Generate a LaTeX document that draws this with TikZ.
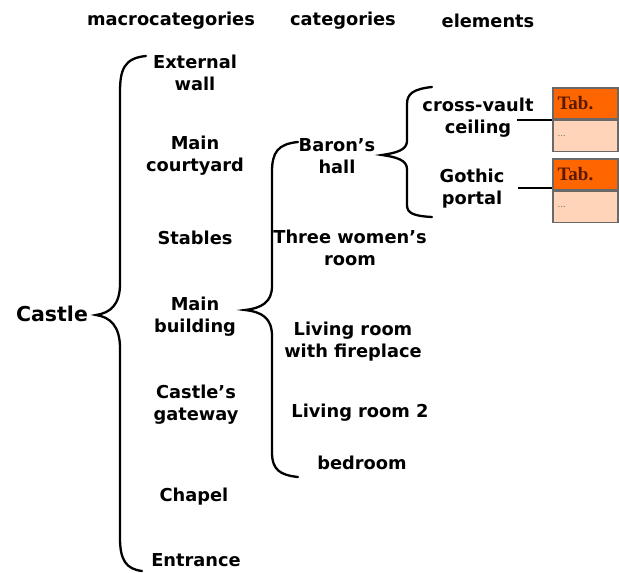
\documentclass[tikz,border=0pt]{standalone}
\usepackage{fontspec}
\setmainfont{DejaVu Sans}
\newfontfamily\tabfont{Liberation Serif}
\usepackage{tikz}
\usetikzlibrary{calc,positioning}

\definecolor{taborange}{RGB}{255,102,0}
\definecolor{tablight}{RGB}{255,212,184}
\definecolor{tabborder}{RGB}{105,105,105}
\definecolor{tabtext}{RGB}{90,25,0}

\begin{document}
\begin{tikzpicture}[x=1pt, y=-1pt,
    item/.style={align=center, inner sep=1pt, font=\fontsize{17.8}{22}\selectfont\bfseries},
    brace/.style={draw, line width=2.3pt, line cap=round},
    tabhead/.style={rectangle, draw=tabborder, line width=1.2pt, fill=taborange, text=tabtext, text width=56pt, inner xsep=4.5pt, minimum height=31pt, align=left, font=\tabfont\fontsize{19}{20}\selectfont\bfseries},
    tabbody/.style={tabhead, fill=tablight, text=gray, font=\tabfont\fontsize{11}{12}\selectfont}]
    \useasboundingbox (0,0) rectangle (619,573);
    % Place headings
    \node [item] (hMacro) at (171,21) {macrocategories};
    \node [item] (hCat) at (343,21) {categories};
    \node [item] (hElem) at (488,21) {elements};
    % Root
    \node [item, font=\fontsize{20.5}{24}\selectfont\bfseries] (castle) at (52,314) {Castle};
    % Macrocategories
    \node [item] (wall) at (195,73) {External\\wall};
    \node [item] (court) at (195,156) {Main\\courtyard};
    \node [item] (stables) at (195,238) {Stables};
    \node [item] (mainbld) at (195,317) {Main\\building};
    \node [item] (gateway) at (196,405) {Castle’s\\gateway};
    \node [item] (chapel) at (194,497) {Chapel};
    \node [item] (entrance) at (196,560) {Entrance};
    % Categories
    \node [item] (baron) at (337,156) {Baron’s\\hall};
    \node [item] (women) at (350,248) {Three women’s\\room};
    \node [item] (living) at (353,342) {Living room\\with fireplace};
    \node [item] (livingtwo) at (360,413) {Living room 2};
    \node [item] (bedroom) at (362,463) {bedroom};
    % Elements
    \node [item] (vault) at (478,118) {cross-vault\\ceiling};
    \node [item] (portal) at (472,189) {Gothic\\portal};
    % Braces
    \path [brace] (146,56) .. controls (124,58) and (120,70) .. (120,92) -- (120,284)
        .. controls (120,305) and (110,313) .. (96,315)
        .. controls (110,317) and (120,326) .. (120,348) -- (120,538)
        .. controls (120,560) and (126,569) .. (142,571);
    \path [brace] (298,142) .. controls (278,144) and (272,152) .. (272,172) -- (272,286)
        .. controls (272,302) and (262,308) .. (245,310)
        .. controls (262,312) and (272,318) .. (272,336) -- (272,452)
        .. controls (272,470) and (280,475) .. (298,477);
    \path [brace] (432,87) .. controls (413,89) and (407,94) .. (407,104) -- (407,141)
        .. controls (407,150) and (396,153) .. (382,155)
        .. controls (396,157) and (407,160) .. (407,169) -- (407,205)
        .. controls (407,213) and (413,216) .. (432,217);
    % Tables
    \coordinate (vaultEnd) at (517,120);
    \coordinate (portalEnd) at (518,188);
    \node [tabhead] (tabA) at (585.5,103.5) {Tab.};
    \node [tabbody, below=0pt of tabA] (tabAbody) {...};
    \node [tabhead] (tabB) at (585.5,174.5) {Tab.};
    \node [tabbody, below=0pt of tabB] (tabBbody) {...};
    \path [draw, line width=2pt] (vaultEnd) -- (vaultEnd -| tabA.west);
    \path [draw, line width=2pt] (portalEnd) -- (portalEnd -| tabB.west);
\end{tikzpicture}
\end{document}
